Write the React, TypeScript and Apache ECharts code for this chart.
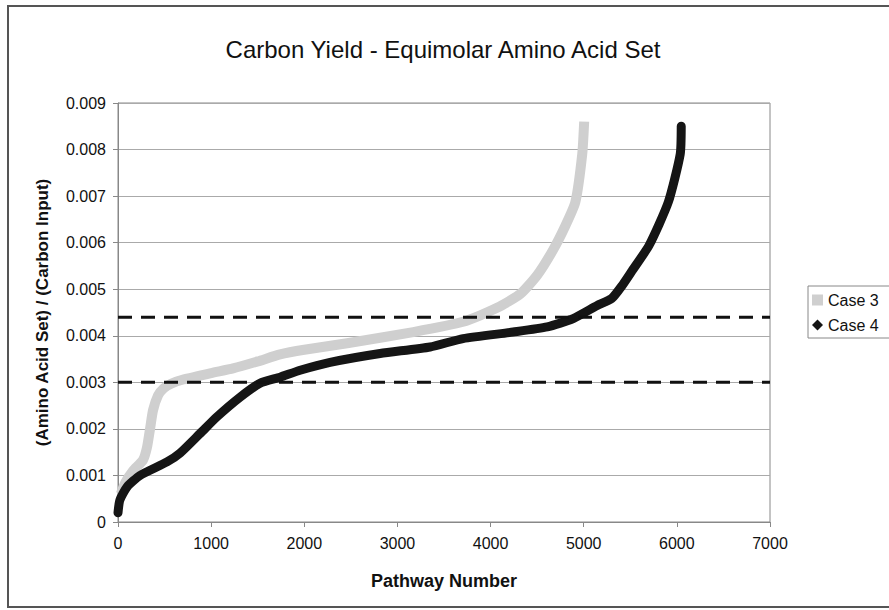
import React, { useEffect, useRef } from "react";
import * as echarts from "echarts";

const title = "Carbon Yield - Equimolar Amino Acid Set";
const xAxisName = "Pathway Number";
const yAxisName = "(Amino Acid Set) / (Carbon Input)";

const case3: [number, number][] = [
  [30, 0.0006], [80, 0.00085], [161, 0.0011], [268, 0.00133], [311, 0.0016],
  [344, 0.002], [376, 0.0024], [430, 0.00272], [490, 0.00287], [570, 0.00297],
  [700, 0.00306], [1000, 0.0032], [1235, 0.0033], [1500, 0.00345], [1740, 0.0036],
  [2000, 0.0037], [2460, 0.00384], [3170, 0.00408], [3705, 0.0043], [4070, 0.0046],
  [4320, 0.0049], [4500, 0.0053], [4670, 0.00584], [4800, 0.00635], [4910, 0.00687],
  [4984, 0.0079], [5005, 0.0086],
];

const case4: [number, number][] = [
  [0, 0.0002], [20, 0.00047], [96, 0.00075], [236, 0.001], [526, 0.00129],
  [666, 0.00148], [881, 0.0019], [1063, 0.00226], [1310, 0.00268], [1525, 0.00298],
  [1740, 0.00311], [1955, 0.00326], [2277, 0.00343], [2814, 0.00362], [3351, 0.00376],
  [3705, 0.00394], [4243, 0.00408], [4608, 0.00419], [4887, 0.00437], [5145, 0.00465],
  [5300, 0.0048], [5420, 0.0051], [5521, 0.0054], [5704, 0.00595], [5908, 0.00687],
  [6036, 0.0079], [6047, 0.0085],
];

const thresholds = [0.0044, 0.003];
const xRange = [0, 7000];

export default function App() {
  const ref = useRef<HTMLDivElement>(null);
  useEffect(() => {
    if (!ref.current) return;
    const chart = echarts.init(ref.current, undefined, { renderer: "svg" });
    const font = "Liberation Sans, Arial, sans-serif";
    chart.setOption({
      animation: false,
      backgroundColor: "#fff",
      title: {
        text: title,
        left: 438,
        top: 32,
        textAlign: "center",
        textStyle: { fontFamily: font, fontSize: 24, fontWeight: "normal", color: "#111" },
      },
      graphic: [
        {
          type: "rect",
          shape: { x: 8, y: 6, width: 900, height: 601 },
          style: { fill: "none", stroke: "#555", lineWidth: 2 },
          silent: true,
        },
      ],
      legend: {
        orient: "vertical",
        left: 808,
        top: 286,
        padding: [6, 20, 5, 4],
        itemGap: 9,
        itemWidth: 11,
        itemHeight: 11,
        backgroundColor: "#fff",
        borderColor: "#888",
        borderWidth: 1,
        borderRadius: 0,
        textStyle: { fontFamily: font, fontSize: 16, color: "#111" },
        data: [
          { name: "Case 3", icon: "rect" },
          { name: "Case 4", icon: "diamond" },
        ],
      },
      grid: {
        left: 118,
        right: 119,
        top: 103,
        bottom: 88,
        show: true,
        borderColor: "#888",
        borderWidth: 1,
        backgroundColor: "transparent",
      },
      xAxis: {
        type: "value",
        min: 0,
        max: 7000,
        interval: 1000,
        name: xAxisName,
        nameLocation: "middle",
        nameGap: 50,
        nameTextStyle: { fontFamily: font, fontSize: 18, fontWeight: "bold", color: "#111" },
        axisLine: { show: true, lineStyle: { color: "#888", width: 1 } },
        axisTick: { show: true, length: 5, lineStyle: { color: "#888" } },
        axisLabel: {
          fontFamily: font,
          fontSize: 16,
          color: "#111",
          margin: 13,
          formatter: (v: number) => String(Math.round(v)),
        },
        splitLine: { show: false },
      },
      yAxis: {
        type: "value",
        min: 0,
        max: 0.009,
        interval: 0.001,
        name: yAxisName,
        nameLocation: "middle",
        nameGap: 67,
        nameTextStyle: { fontFamily: font, fontSize: 17, fontWeight: "bold", color: "#111" },
        axisLine: { show: true, lineStyle: { color: "#888", width: 1 } },
        axisTick: { show: true, length: 5, lineStyle: { color: "#888" } },
        axisLabel: {
          fontFamily: font,
          fontSize: 16,
          color: "#111",
          margin: 12,
          formatter: (v: number) => (v === 0 ? "0" : v.toFixed(3)),
        },
        splitLine: { show: true, lineStyle: { color: "#aaa", width: 1 } },
      },
      series: [
        ...thresholds.map((t, i) => ({
          name: "threshold" + i,
          type: "line",
          data: [[xRange[0], t], [xRange[1], t]],
          showSymbol: false,
          silent: true,
          lineStyle: { color: "#111", width: 3, type: [14, 9] },
          z: 4,
        })),
        {
          name: "Case 3",
          type: "line",
          data: case3,
          showSymbol: false,
          symbol: "rect",
          smooth: 0.2,
          itemStyle: { color: "#cfcfcf" },
          lineStyle: { color: "#cfcfcf", width: 10, cap: "butt", join: "round" },
          z: 2,
        },
        {
          name: "Case 4",
          type: "line",
          data: case4,
          showSymbol: false,
          symbol: "diamond",
          smooth: 0.2,
          itemStyle: { color: "#151515" },
          lineStyle: { color: "#151515", width: 9, cap: "round", join: "round" },
          z: 3,
        },
      ],
    });
    return () => chart.dispose();
  }, []);
  return (
    <div
      ref={ref}
      style={{ position: "absolute", left: 0, top: 0, width: 889, height: 610 }}
    />
  );
}
